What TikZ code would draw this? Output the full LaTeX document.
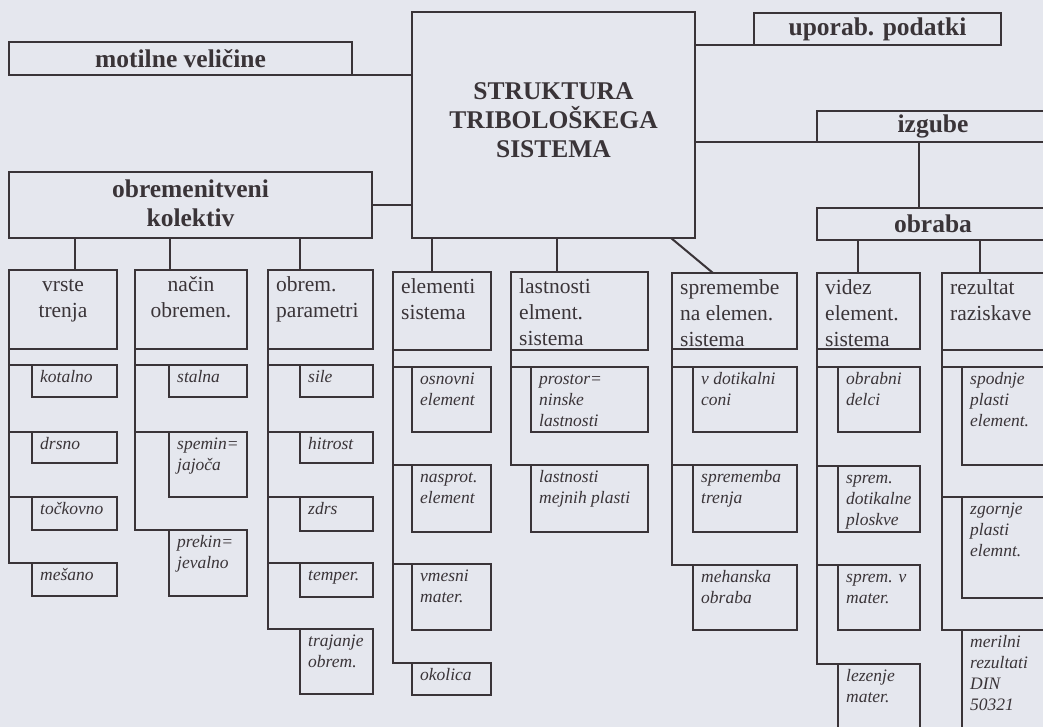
\documentclass[tikz,border=0pt]{standalone}
\usepackage{fontspec}
\setmainfont{Liberation Serif}
\usepackage{xcolor}
\definecolor{paper}{RGB}{229,231,238}
\definecolor{ink}{RGB}{58,52,56}

\tikzset{
  line/.style={draw=ink, line width=2pt},
  sz/.style 2 args={minimum width=#1pt, minimum height=#2pt},
  box/.style={line, anchor=north west, inner sep=0pt, outer sep=0pt},
  big/.style={box, text=ink, align=center, font=\bfseries\fontsize{25.5}{29.5}\selectfont},
  title/.style={text=ink, align=center, inner sep=0pt, yshift=5pt,
    font=\bfseries\fontsize{25.5}{29}\selectfont},
  htxt/.style={anchor=north west, inner xsep=8pt, inner ysep=3pt, align=left, text=ink,
    font=\fontsize{21.5}{26}\selectfont},
  hmid/.style={htxt, anchor=north, align=center},
  ktxt/.style={anchor=north west, inner xsep=8pt, inner ysep=3pt, align=left, text=ink,
    font=\itshape\fontsize{17.5}{21}\selectfont}
}

\begin{document}
\begin{tikzpicture}[x=1pt, y=-1pt]
  \useasboundingbox (0,0) rectangle (1043,727);
  \fill[paper] (0,0) rectangle (1043,727);
  \clip (0,0) rectangle (1043,727);

  % main blocks
  \node[big, sz={343}{33}] (mot) at (9,42) {motilne veličine};
  \node[box, sz={363}{66}, label={[title, yshift=-3pt]center:obremenitveni\\kolektiv}] (obr) at (9,172) {};
  \node[box, sz={283}{226}, label={[title]center:STRUKTURA\\TRIBOLOŠKEGA\\SISTEMA}] (core) at (412,12) {};
  \node[big, sz={247}{32}] (upo) at (754,13) {uporab. podatki};
  \node[big, sz={232}{31}] (izg) at (817,111) {izgube};
  \node[big, sz={232}{32}] (obrb) at (817,208) {obraba};

  % column heads
  \node[box, sz={108}{79}, label={[hmid]north:\strut vrste\\trenja}] (vrs) at (9,270) {};
  \node[box, sz={112}{79}, label={[hmid]north:\strut način\\obremen.}] (nac) at (135,270) {};
  \node[box, sz={105}{79}, label={[htxt]north west:\strut obrem.\\parametri}] (par) at (268,270) {};
  \node[box, sz={98}{78}, label={[htxt]north west:\strut elementi\\sistema}] (ele) at (393,272) {};
  \node[box, sz={137}{78}, label={[htxt]north west:\strut lastnosti\\elment.\\sistema}] (las) at (511,272) {};
  \node[box, sz={125}{76}, label={[htxt]north west:\strut spremembe\\na elemen.\\sistema}] (spr) at (672,273) {};
  \node[box, sz={103}{76}, label={[htxt]north west:\strut videz\\element.\\sistema}] (vid) at (817,273) {};
  \node[box, sz={108}{77}, label={[htxt]north west:\strut rezultat\\raziskave}] (rez) at (942,273) {};

  % vrste trenja
  \node[box, sz={85}{32}, label={[ktxt]north west:\strut kotalno}] (kot) at (32,365) {};
  \node[box, sz={85}{31}, label={[ktxt]north west:\strut drsno}] (drs) at (32,432) {};
  \node[box, sz={85}{33}, label={[ktxt]north west:\strut točkovno}] (toc) at (32,497) {};
  \node[box, sz={85}{33}, label={[ktxt]north west:\strut mešano}] (mes) at (32,563) {};
  % nacin obremenitve
  \node[box, sz={78}{32}, label={[ktxt]north west:\strut stalna}] (sta) at (169,365) {};
  \node[box, sz={78}{65}, label={[ktxt]north west:\strut spemin{=}\\jajoča}] (spe) at (169,432) {};
  \node[box, sz={78}{66}, label={[ktxt]north west:\strut prekin{=}\\jevalno}] (pre) at (169,530) {};
  % parametri
  \node[box, sz={73}{32}, label={[ktxt]north west:\strut sile}] (sil) at (300,365) {};
  \node[box, sz={73}{31}, label={[ktxt]north west:\strut hitrost}] (hit) at (300,432) {};
  \node[box, sz={73}{34}, label={[ktxt]north west:\strut zdrs}] (zdr) at (300,497) {};
  \node[box, sz={73}{34}, label={[ktxt]north west:\strut temper.}] (tem) at (300,563) {};
  \node[box, sz={73}{65}, label={[ktxt]north west:\strut trajanje\\obrem.}] (tra) at (300,629) {};
  % elementi
  \node[box, sz={79}{65}, label={[ktxt]north west:\strut osnovni\\element}] (osn) at (412,367) {};
  \node[box, sz={79}{67}, label={[ktxt]north west:\strut nasprot.\\element}] (nas) at (412,465) {};
  \node[box, sz={79}{66}, label={[ktxt]north west:\strut vmesni\\mater.}] (vme) at (412,564) {};
  \node[box, sz={79}{32}, label={[ktxt]north west:\strut okolica}] (oko) at (412,663) {};
  % lastnosti
  \node[box, sz={117}{65}, label={[ktxt]north west:\strut prostor{=}\\ninske\\lastnosti}] (pro) at (531,367) {};
  \node[box, sz={117}{67}, label={[ktxt]north west:\strut lastnosti\\mejnih plasti}] (mej) at (531,465) {};
  % spremembe
  \node[box, sz={104}{65}, label={[ktxt]north west:\strut v dotikalni\\coni}] (dot) at (693,367) {};
  \node[box, sz={104}{67}, label={[ktxt]north west:\strut sprememba\\trenja}] (stn) at (693,465) {};
  \node[box, sz={104}{65}, label={[ktxt]north west:\strut mehanska\\obraba}] (meh) at (693,565) {};
  % videz
  \node[box, sz={82}{65}, label={[ktxt]north west:\strut obrabni\\delci}] (obd) at (838,367) {};
  \node[box, sz={82}{66}, label={[ktxt]north west:\strut sprem.\\dotikalne\\ploskve}] (plo) at (838,466) {};
  \node[box, sz={82}{65}, label={[ktxt]north west:\strut sprem. v\\mater.}] (mat) at (838,565) {};
  \node[box, sz={82}{80}, label={[ktxt]north west:\strut lezenje\\mater.}] (lez) at (838,664) {};
  % rezultat
  \node[box, sz={90}{98}, label={[ktxt]north west:\strut spodnje\\plasti\\element.}] (spo) at (962,367) {};
  \node[box, sz={90}{101}, label={[ktxt]north west:\strut zgornje\\plasti\\elemnt.}] (zgo) at (962,497) {};
  \node[box, sz={90}{110}, label={[ktxt]north west:\strut merilni\\rezultati\\DIN\\50321}] (mer) at (962,630) {};

  % stems
  \coordinate (s1) at (75,0);
  \coordinate (s2) at (170,0);
  \coordinate (s3) at (300,0);
  \coordinate (s4) at (432,0);
  \coordinate (s5) at (557,0);
  \coordinate (s6) at (919,0);
  \coordinate (s7) at (858,0);
  \coordinate (s8) at (980,0);

  \draw[line] (mot.south east) -- (mot.south east -| core.west);
  \draw[line] (obr.east) -- (obr.east -| core.west);
  \draw[line] (upo.south west) -- (upo.south west -| core.east);
  \draw[line] (izg.south west) -- (izg.south west -| core.east);
  \draw[line] (izg.south -| s6) -- (obrb.north -| s6);
  \draw[line] (obr.south -| s1) -- (vrs.north -| s1);
  \draw[line] (obr.south -| s2) -- (nac.north -| s2);
  \draw[line] (obr.south -| s3) -- (par.north -| s3);
  \draw[line] (core.south -| s4) -- (ele.north -| s4);
  \draw[line] (core.south -| s5) -- (las.north -| s5);
  \draw[line] ([xshift=-24pt]core.south east) -- ([xshift=41pt]spr.north west);
  \draw[line] (obrb.south -| s7) -- (vid.north -| s7);
  \draw[line] (obrb.south -| s8) -- (rez.north -| s8);

  % branches
  \draw[line] (vrs.south west) |- (kot.north west);
  \draw[line] (vrs.south west) |- (drs.north west);
  \draw[line] (vrs.south west) |- (toc.north west);
  \draw[line] (vrs.south west) |- (mes.north west);
  \draw[line] (nac.south west) |- (sta.north west);
  \draw[line] (nac.south west) |- (spe.north west);
  \draw[line] (nac.south west) |- (pre.north west);
  \draw[line] (par.south west) |- (sil.north west);
  \draw[line] (par.south west) |- (hit.north west);
  \draw[line] (par.south west) |- (zdr.north west);
  \draw[line] (par.south west) |- (tem.north west);
  \draw[line] (par.south west) |- (tra.north west);
  \draw[line] (ele.south west) |- (osn.north west);
  \draw[line] (ele.south west) |- (nas.north west);
  \draw[line] (ele.south west) |- (vme.north west);
  \draw[line] (ele.south west) |- (oko.north west);
  \draw[line] (las.south west) |- (pro.north west);
  \draw[line] (las.south west) |- (mej.north west);
  \draw[line] (spr.south west) |- (dot.north west);
  \draw[line] (spr.south west) |- (stn.north west);
  \draw[line] (spr.south west) |- (meh.north west);
  \draw[line] (vid.south west) |- (obd.north west);
  \draw[line] (vid.south west) |- (plo.north west);
  \draw[line] (vid.south west) |- (mat.north west);
  \draw[line] (vid.south west) |- (lez.north west);
  \draw[line] (rez.south west) |- (spo.north west);
  \draw[line] (rez.south west) |- (zgo.north west);
  \draw[line] (rez.south west) |- (mer.north west);
\end{tikzpicture}
\end{document}
